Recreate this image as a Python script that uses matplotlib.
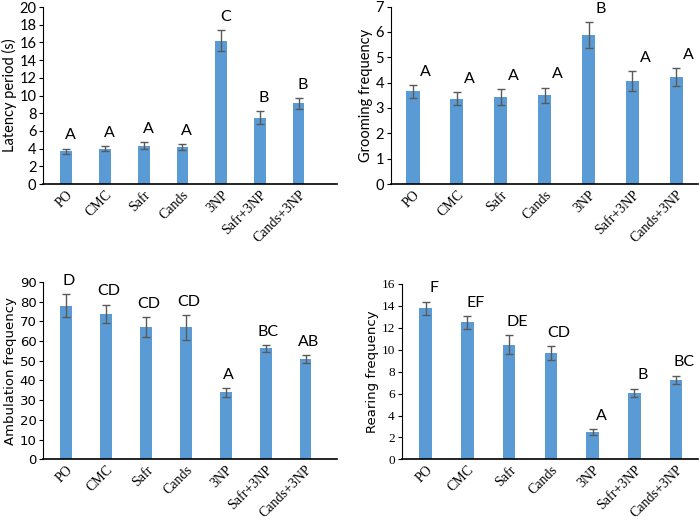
import numpy as np
import matplotlib
matplotlib.use('Agg')
import matplotlib.pyplot as plt

# groups shared by all four panels
groups = ['PO', 'CMC', 'Safr', 'Cands', '3NP', 'Safr+3NP', 'Cands+3NP']

# latency period (s)
latency = [3.7, 4.0, 4.35, 4.2, 16.2, 7.5, 9.1]
latency_err = [0.3, 0.3, 0.4, 0.35, 1.2, 0.7, 0.6]
latency_sig = ['A', 'A', 'A', 'A', 'C', 'B', 'B']

# grooming frequency
grooming = [3.65, 3.37, 3.43, 3.5, 5.87, 4.05, 4.22]
grooming_err = [0.25, 0.25, 0.3, 0.3, 0.5, 0.4, 0.35]
grooming_sig = ['A', 'A', 'A', 'A', 'B', 'A', 'A']

# ambulation frequency
ambulation = [78, 73.8, 67.3, 67, 34, 56.3, 51]
ambulation_err = [6, 4.7, 5, 6.3, 2.2, 1.8, 2]
ambulation_sig = ['D', 'CD', 'CD', 'CD', 'A', 'BC', 'AB']

# rearing frequency
rearing = [13.8, 12.5, 10.45, 9.7, 2.5, 6.05, 7.25]
rearing_err = [0.6, 0.6, 0.85, 0.6, 0.25, 0.4, 0.4]
rearing_sig = ['F', 'EF', 'DE', 'CD', 'A', 'B', 'BC']

bar_color = '#5B9BD5'
err_color = '#595959'

fig = plt.figure(figsize=(7, 5.22), dpi=100)

panels = [
    # rect, values, errors, letters, ylabel, ymax, ystep, xlim, tick font, letter dx
    ([0.062, 0.6475, 0.420, 0.339], latency, latency_err, latency_sig,
     'Latency period (s)', 20, 2, (-0.59, 7.0), 'Lato', 3),
    ([0.5586, 0.6475, 0.439, 0.340], grooming, grooming_err, grooming_sig,
     'Grooming frequency', 7, 1, (-0.5, 6.5), 'Lato', 9),
    ([0.062, 0.12, 0.420, 0.340], ambulation, ambulation_err, ambulation_sig,
     'Ambulation frequency', 90, 10, (-0.575, 6.8), 'DejaVu Sans', 2),
    ([0.574, 0.12, 0.423, 0.336], rearing, rearing_err, rearing_sig,
     'Rearing frequency', 16, 2, (-0.57, 6.52), 'Liberation Serif', 6),
]

x = np.arange(len(groups))
for rect, vals, errs, sig, ylab, ymax, ystep, xlim, tfont, dx in panels:
    ax = fig.add_axes(rect)
    ax.bar(x, vals, width=0.3, color=bar_color, zorder=2)
    ax.errorbar(x, vals, yerr=errs, fmt='none', ecolor=err_color,
                elinewidth=1, capsize=3, capthick=1, zorder=3)
    for xi, v, e, s in zip(x, vals, errs, sig):
        ax.annotate(s, (xi, v + e), xytext=(dx, 9.5), textcoords='offset points',
                    ha='center', va='center', fontsize=11.5,
                    family='Lato', color='black', annotation_clip=False)
    ax.set_xlim(*xlim)
    ax.set_ylim(0, ymax)
    ax.set_yticks(np.arange(0, ymax + ystep / 2, ystep))
    ax.set_xticks(x)
    ax.set_xticklabels(groups, rotation=45, ha='right', rotation_mode='anchor',
                       family='Liberation Serif', fontsize=10)
    for lbl in ax.get_yticklabels():
        lbl.set_family(tfont)
        lbl.set_fontsize(10.5 if tfont == 'Lato' else 9.5)
    ylab_font = 'DejaVu Sans' if tfont in ('DejaVu Sans', 'Liberation Serif') else 'Lato'
    ax.set_ylabel(ylab, family=ylab_font, fontsize=10.5 if ylab_font == 'Lato' else 9.5,
                  labelpad=2)
    ax.spines['top'].set_visible(False)
    ax.spines['right'].set_visible(False)
    ax.spines['left'].set_color('black')
    ax.spines['bottom'].set_color('black')
    ax.spines['bottom'].set_linewidth(1.2)
    ax.tick_params(axis='x', length=0, pad=3)
    ax.tick_params(axis='y', length=3, direction='out', pad=2)

plt.savefig('out.png', dpi=100)
